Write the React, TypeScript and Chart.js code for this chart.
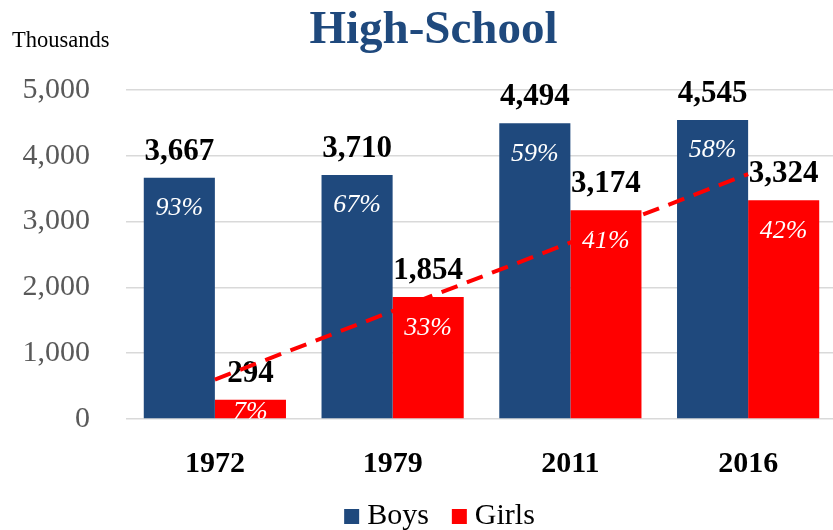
import React, { useEffect, useRef } from 'react';
import { Chart, registerables } from 'chart.js';

Chart.register(...registerables);

const categories = ['1972', '1979', '2011', '2016'];
const boys = [3667, 3710, 4494, 4545];
const girls = [294, 1854, 3174, 3324];
const boysPct = ['93%', '67%', '59%', '58%'];
const girlsPct = ['7%', '33%', '41%', '42%'];
const girlsTrend = [600, null, null, 3723];
const yTicks = [0, 1000, 2000, 3000, 4000, 5000];
const seriesNames = ['Boys', 'Girls'];
const chartTitle = 'High-School';
const unitLabel = 'Thousands';

const BLUE = '#1F497D';
const RED = '#FF0000';
const SERIF = '"Liberation Serif", "Times New Roman", serif';

const fmt = (v: number) => v.toLocaleString('en-US');

function drawBarLabels(chart: any) {
  const ctx = chart.ctx;
  const a = chart.chartArea;
  // percentages inside bars (clipped to plot area)
  ctx.save();
  ctx.beginPath();
  ctx.rect(a.left, a.top, a.right - a.left, a.bottom - a.top);
  ctx.clip();
  ctx.font = `italic 26px ${SERIF}`;
  ctx.fillStyle = '#FFFFFF';
  ctx.textAlign = 'center';
  ctx.textBaseline = 'alphabetic';
  [boysPct, girlsPct].forEach((arr, di) => {
    chart.getDatasetMeta(di).data.forEach((bar: any, i: number) => {
      const mid = (bar.y + bar.base) / 2 + 1;
      const center = Math.min(bar.y + 28.5, mid);
      ctx.fillText(arr[i], bar.x, center + 9);
    });
  });
  ctx.restore();
  // values above bars
  ctx.save();
  ctx.font = `bold 31px ${SERIF}`;
  ctx.fillStyle = '#000000';
  ctx.textAlign = 'center';
  ctx.textBaseline = 'alphabetic';
  [boys, girls].forEach((arr, di) => {
    chart.getDatasetMeta(di).data.forEach((bar: any, i: number) => {
      ctx.fillText(fmt(arr[i]), bar.x, bar.y - 18);
    });
  });
  ctx.restore();
}

const decorPlugin = {
  id: 'decor',
  beforeDatasetDraw(chart: any, args: any) {
    if (args.index === 2) drawBarLabels(chart);
  },
  afterDraw(chart: any) {
    const ctx = chart.ctx;
    ctx.save();
    // title
    ctx.font = `bold 47px ${SERIF}`;
    ctx.fillStyle = BLUE;
    ctx.textAlign = 'center';
    ctx.textBaseline = 'alphabetic';
    ctx.fillText(chartTitle, 433.5, 43);
    // unit label
    ctx.font = `22.5px ${SERIF}`;
    ctx.fillStyle = '#000000';
    ctx.textAlign = 'left';
    ctx.fillText(unitLabel, 12, 47);
    // legend
    ctx.font = `30px ${SERIF}`;
    const box = 15, gap = 8, spacing = 23;
    const colors = [BLUE, RED];
    const widths = seriesNames.map((n) => ctx.measureText(n).width);
    const total = widths.reduce((s, w) => s + box + gap + w, 0) + spacing * (seriesNames.length - 1);
    let x = 439.5 - total / 2;
    seriesNames.forEach((n, i) => {
      ctx.fillStyle = colors[i];
      ctx.fillRect(x, 509, box, box);
      ctx.fillStyle = '#000000';
      ctx.fillText(n, x + box + gap, 524);
      x += box + gap + widths[i] + spacing;
    });
    ctx.restore();
  },
};

export default function App() {
  const ref = useRef<HTMLCanvasElement | null>(null);

  useEffect(() => {
    if (!ref.current) return;
    const chart = new Chart(ref.current, {
      type: 'bar',
      data: {
        labels: categories,
        datasets: [
          {
            label: seriesNames[0],
            data: boys,
            backgroundColor: BLUE,
            categoryPercentage: 0.8,
            barPercentage: 1.0,
            order: 1,
          },
          {
            label: seriesNames[1],
            data: girls,
            backgroundColor: RED,
            categoryPercentage: 0.8,
            barPercentage: 1.0,
            order: 1,
          },
          {
            type: 'line',
            label: 'Girls trend',
            data: girlsTrend as any,
            borderColor: RED,
            borderWidth: 4,
            borderDash: [17, 10],
            pointRadius: 0,
            spanGaps: true,
            fill: false,
            order: 0,
          } as any,
        ],
      },
      options: {
        responsive: false,
        animation: false,
        layout: { padding: { top: 90, right: 3, bottom: 0, left: 0 } },
        plugins: {
          legend: { display: false },
          title: { display: false },
          tooltip: { enabled: false },
        },
        scales: {
          x: {
            grid: { display: false },
            border: { display: false },
            ticks: {
              color: '#000000',
              padding: 19.5,
              font: { family: SERIF, size: 30, weight: 'bold' },
            },
            afterFit: (s: any) => {
              s.height = 111;
            },
          },
          y: {
            min: 0,
            max: 5000,
            border: { display: false },
            grid: { color: '#D9D9D9', lineWidth: 1.5, drawTicks: false },
            afterBuildTicks: (s: any) => {
              s.ticks = yTicks.map((v) => ({ value: v }));
            },
            ticks: {
              color: '#595959',
              padding: 36,
              font: { family: SERIF, size: 30 },
              callback: (v: any) => fmt(Number(v)),
            },
            afterFit: (s: any) => {
              s.width = 126;
            },
          },
        },
      } as any,
      plugins: [decorPlugin],
    });
    return () => chart.destroy();
  }, []);

  return (
    <div
      style={{
        position: 'fixed',
        left: 0,
        top: 0,
        width: 833,
        height: 530,
        overflow: 'hidden',
        background: '#FFFFFF',
      }}
    >
      <canvas ref={ref} width={840} height={530} style={{ display: 'block' }} />
    </div>
  );
}
